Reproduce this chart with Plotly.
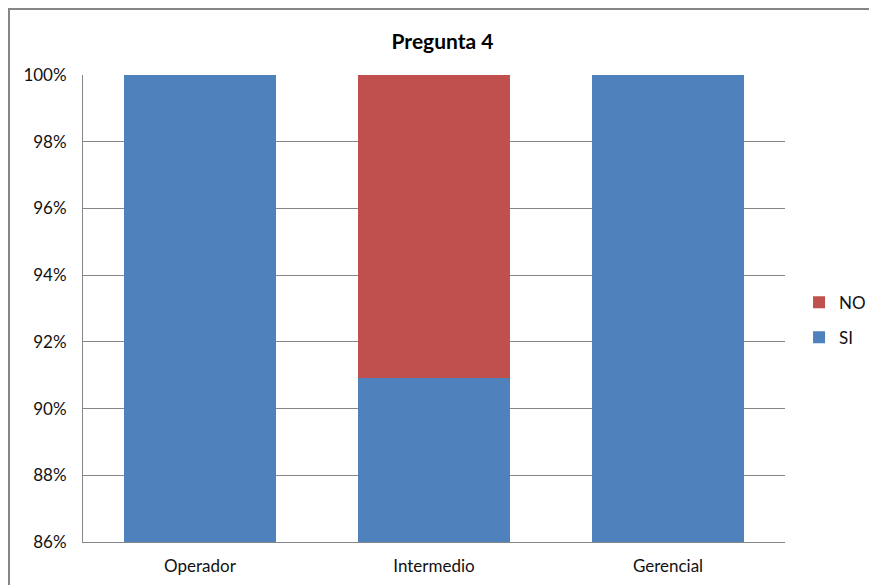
import plotly.graph_objects as go

categories = ["Operador", "Intermedio", "Gerencial"]
si_values = [100.0, 90.91, 100.0]
no_values = [0.0, 9.09, 0.0]
tick_vals = [86, 88, 90, 92, 94, 96, 98, 100]
tick_text = [f"{v}%" for v in tick_vals]

FONT = "Lato, Open Sans, Arial, sans-serif"

fig = go.Figure()
fig.add_trace(go.Bar(name="SI", x=categories, y=si_values, marker_color="#4F81BD",
                     marker_line_width=0, legendgroup="si", legendrank=2))
fig.add_trace(go.Bar(name="NO", x=categories, y=no_values, marker_color="#C0504D",
                     marker_line_width=0, legendgroup="no", legendrank=1))

fig.update_layout(
    barmode="stack",
    bargap=0.35,
    width=869, height=585,
    margin=dict(l=83, r=84, t=75, b=43, autoexpand=False),
    paper_bgcolor="white", plot_bgcolor="white",
    font=dict(family=FONT, size=17, color="#111111"),
    title=dict(text="<b>Pregunta 4</b>", x=0.5 + 8/869, xanchor="center", y=1 - 42/585,
               yanchor="middle", font=dict(size=21, family=FONT, color="black")),
    showlegend=True,
    legend=dict(x=1.02, y=0.475, xanchor="left", yanchor="middle",
                traceorder="grouped", font=dict(size=17, family=FONT),
                itemwidth=30, tracegroupgap=10, bgcolor="rgba(0,0,0,0)"),
    xaxis=dict(showgrid=False, showline=True, linecolor="#868686", linewidth=1,
               ticks="", tickfont=dict(size=17, family=FONT), ticklabelstandoff=9),
    yaxis=dict(range=[86, 100], tickvals=tick_vals, ticktext=tick_text,
               showgrid=True, gridcolor="#868686", gridwidth=1,
               showline=True, linecolor="#868686", linewidth=1,
               ticks="", zeroline=False, tickfont=dict(size=17, family=FONT),
               ticklabelstandoff=12),
    shapes=[dict(type="rect", xref="paper", yref="paper",
                 x0=(9 - 83) / 702, x1=1.3, y0=-0.3, y1=1 + (75 - 9) / 467,
                 line=dict(color="#868686", width=2), fillcolor="rgba(0,0,0,0)",
                 layer="below")],
)

fig.write_html("out.html")
